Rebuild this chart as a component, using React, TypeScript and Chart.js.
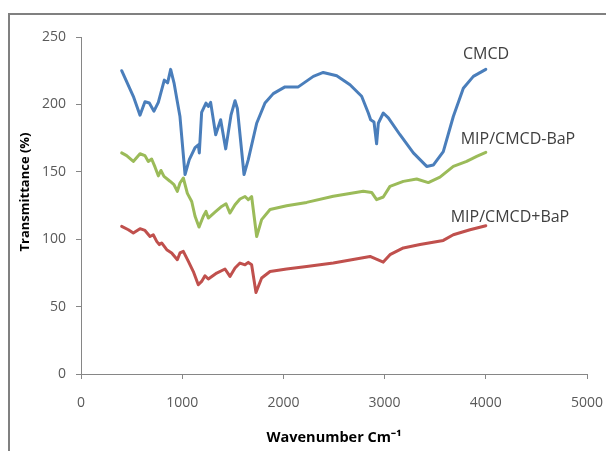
import React, { useEffect, useRef } from "react";
import { Chart, registerables } from "chart.js";

Chart.register(...registerables);

const cmcdX = [402, 517, 583, 632, 675, 721, 764, 823, 856, 886, 919, 952, 978, 1028, 1070, 1127, 1159, 1169, 1192, 1235, 1258, 1281, 1331, 1380, 1430, 1482, 1522, 1545, 1611, 1653, 1736, 1818, 1900, 2016, 2147, 2296, 2394, 2527, 2658, 2773, 2839, 2862, 2895, 2921, 2938, 2987, 3037, 3152, 3284, 3416, 3481, 3580, 3679, 3778, 3877, 4000];
const cmcdY = [225, 206, 192, 202, 201, 195, 201.5, 218, 216, 226, 216, 202, 191, 148, 159, 168, 170, 164, 194, 201, 198.5, 201.5, 177.5, 188.6, 167, 192, 202.7, 197, 148, 159, 186, 201, 208, 213, 213, 220.8, 223.7, 221.3, 214.6, 206, 193.6, 188.6, 187, 170.8, 186, 193.6, 190, 177.5, 164, 154, 155, 165, 191, 212, 220.8, 226];

const bapMinusX = [402, 451, 517, 583, 632, 665, 698, 731, 764, 790, 820, 879, 919, 952, 978, 1011, 1051, 1094, 1127, 1166, 1209, 1235, 1258, 1324, 1390, 1433, 1472, 1522, 1571, 1621, 1653, 1686, 1736, 1785, 1868, 2032, 2230, 2493, 2789, 2872, 2921, 2987, 3053, 3185, 3317, 3432, 3547, 3679, 3811, 3910, 4000];
const bapMinusY = [164, 162, 157.7, 163.4, 162, 157.7, 159.5, 153.6, 147, 151, 146.6, 143, 140.4, 135.5, 141.7, 145.4, 134, 128, 117, 109, 117, 120.6, 115.7, 120, 124.3, 126.3, 119.4, 125.6, 129.8, 131.7, 129.3, 131.7, 102, 114.5, 122, 124.8, 127.3, 131.8, 135.5, 134.7, 129.3, 131.3, 139.2, 142.9, 144.7, 142, 146, 154, 157.7, 161.4, 164.4];

const bapPlusX = [402, 468, 517, 583, 632, 682, 714, 748, 774, 797, 847, 896, 952, 978, 1011, 1061, 1110, 1159, 1192, 1225, 1258, 1341, 1423, 1472, 1522, 1571, 1621, 1653, 1686, 1729, 1785, 1868, 2032, 2230, 2493, 2856, 2987, 3053, 3185, 3350, 3580, 3679, 3844, 4000];
const bapPlusY = [109.5, 107, 104.6, 107.8, 106.5, 102, 103.3, 98.4, 96, 97.2, 92.2, 89.8, 84.8, 89.8, 91, 83.5, 76, 66.2, 68.7, 72.9, 70.5, 74.9, 77.9, 72.4, 78.6, 82.3, 81, 82.8, 81, 60.5, 71.2, 76, 77.9, 79.8, 82.3, 87.2, 83, 88.5, 93.5, 96, 99.1, 103.3, 107, 110];

const seriesNames = ["CMCD", "MIP/CMCD-BaP", "MIP/CMCD+BaP"];
const labelX = [4002, 4318, 4239];
const labelY = [236.9, 173.8, 116];
const yTitle = "Transmittance (%)";
const xTitle = "Wavenumber Cm\u207B\u00B9";

const toPts = (xs: number[], ys: number[]) => xs.map((x, i) => ({ x, y: ys[i] }));

export default function App() {
  const ref = useRef<HTMLCanvasElement | null>(null);
  useEffect(() => {
    if (!ref.current) return;
    const colors = ["#4a7ebb", "#9bbb59", "#c0504d"];
    const overlay = {
      id: "overlay",
      afterDraw(chart: any) {
        const ctx = chart.ctx;
        const xs = chart.scales.x;
        const ys = chart.scales.y;
        ctx.save();
        ctx.strokeStyle = "#808080";
        ctx.lineWidth = 2;
        ctx.beginPath();
        ctx.moveTo(9, 460);
        ctx.lineTo(9, 14);
        ctx.lineTo(620, 14);
        ctx.stroke();
        ctx.fillStyle = "#404040";
        ctx.font = "16px 'Open Sans'";
        ctx.textAlign = "center";
        ctx.textBaseline = "middle";
        seriesNames.forEach((n, i) => {
          ctx.fillText(n, xs.getPixelForValue(labelX[i]), ys.getPixelForValue(labelY[i]));
        });
        ctx.fillStyle = "#000000";
        ctx.font = "bold 14.5px 'Open Sans'";
        ctx.fillText(xTitle, (xs.left + xs.right) / 2, 438);
        ctx.font = "bold 13px 'Open Sans'";
        ctx.translate(25, 192);
        ctx.rotate(-Math.PI / 2);
        ctx.fillText(yTitle, 0, 0);
        ctx.restore();
      },
    };
    const chart = new Chart(ref.current, {
      type: "scatter",
      data: {
        datasets: [
          { label: seriesNames[0], data: toPts(cmcdX, cmcdY) },
          { label: seriesNames[1], data: toPts(bapMinusX, bapMinusY) },
          { label: seriesNames[2], data: toPts(bapPlusX, bapPlusY) },
        ].map((d, i) => ({
          ...d,
          showLine: true,
          borderColor: colors[i],
          backgroundColor: colors[i],
          borderWidth: 3,
          pointRadius: 0,
          tension: 0,
          borderJoinStyle: "round" as const,
          borderCapStyle: "round" as const,
        })),
      },
      options: {
        animation: false,
        responsive: true,
        maintainAspectRatio: false,
        layout: { padding: { left: 0, top: 37, right: 19, bottom: 0 } },
        plugins: { legend: { display: false }, tooltip: { enabled: false } },
        scales: {
          x: {
            type: "linear",
            min: 0,
            max: 5000,
            ticks: { stepSize: 1000, color: "#595959", font: { family: "'Open Sans'", size: 14 }, padding: 16, maxRotation: 0, callback: (v: any) => String(v) },
            grid: { drawOnChartArea: false, drawTicks: true, tickLength: 5, color: "#868686" },
            border: { color: "#868686", width: 1 },
            afterFit: (s: any) => { s.height = 77; s.paddingRight = 0; s.paddingLeft = 0; },
          },
          y: {
            min: 0,
            max: 250,
            ticks: { stepSize: 50, color: "#595959", font: { family: "'Open Sans'", size: 14 }, padding: 10 },
            grid: { drawOnChartArea: false, drawTicks: true, tickLength: 5, color: "#868686" },
            border: { color: "#868686", width: 1 },
            afterFit: (s: any) => { s.width = 81; s.paddingTop = 0; s.paddingBottom = 0; },
          },
        },
      },
      plugins: [overlay],
    });
    return () => chart.destroy();
  }, []);
  return (
    <div style={{ position: "fixed", left: 0, top: 0, width: 606, height: 451, background: "#fff" }}>
      <canvas ref={ref} />
    </div>
  );
}
